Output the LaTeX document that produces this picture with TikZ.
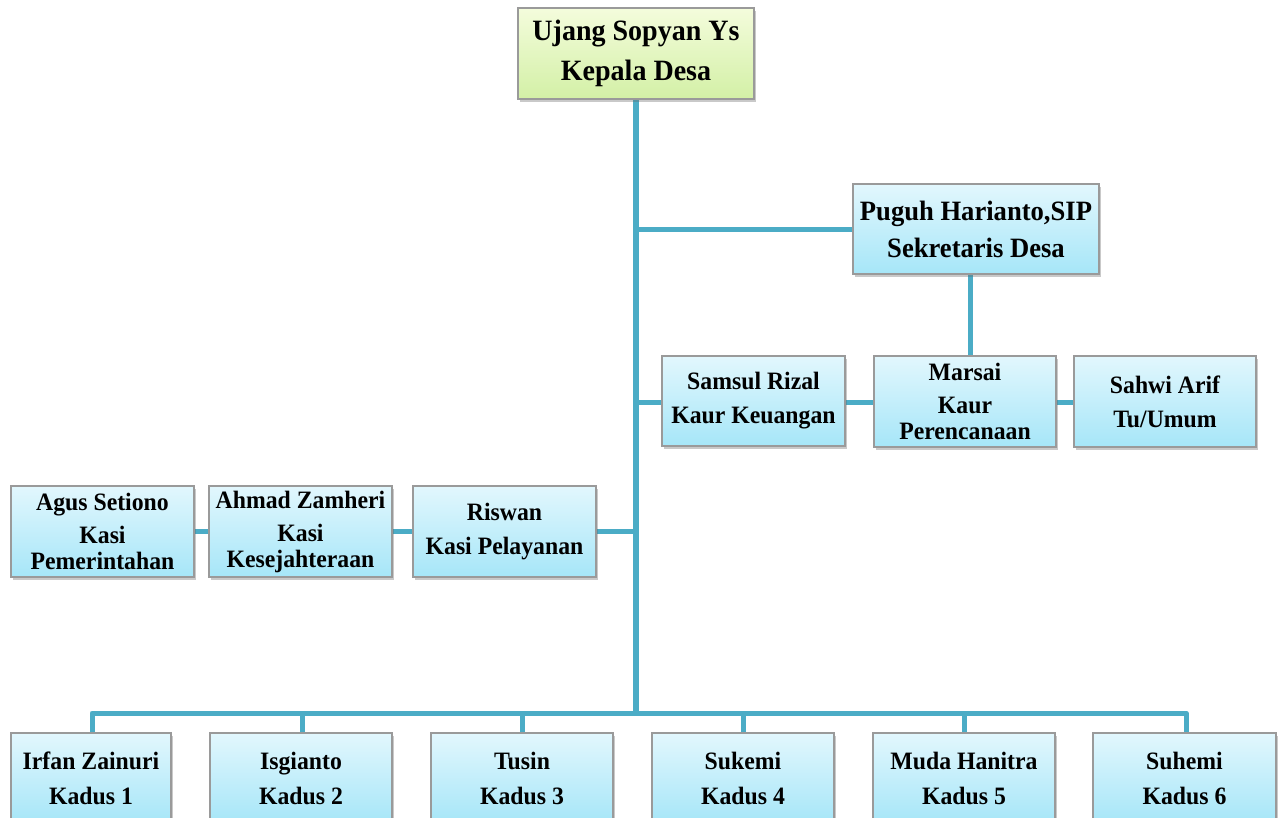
\documentclass[tikz,border=0pt]{standalone}
\usepackage{fontspec}
\setmainfont{Liberation Serif}[FakeStretch=0.95]
\usetikzlibrary{shadows}
\definecolor{lineblue}{HTML}{4BACC6}
\definecolor{bxtop}{HTML}{E2F7FD}
\definecolor{bxbot}{HTML}{A6E6F8}
\definecolor{grtop}{HTML}{F4FCDC}
\definecolor{grbot}{HTML}{D3F0A6}
\definecolor{bxedge}{HTML}{9A9A9A}
\tikzset{
  box/.style={draw=bxedge, line width=1.2pt, rectangle, top color=bxtop, bottom color=bxbot,
    drop shadow={shadow xshift=2pt, shadow yshift=-3pt, opacity=0.35, fill=black!60},
    align=center, font=\bfseries\fontsize{25}{34}\selectfont, inner sep=2pt},
  threebox/.style={box, font=\bfseries\fontsize{25}{26}\selectfont},
  headbox/.style={box, top color=grtop, bottom color=grbot, font=\bfseries\fontsize{29.5}{40}\selectfont},
  conn/.style={draw=lineblue, line width=5pt},
  trunk/.style={draw=lineblue, line width=6pt}
}
\begin{document}
\begin{tikzpicture}[x=1pt,y=-1pt]
\clip (0,0) rectangle (1280,818);
\fill[white] (0,0) rectangle (1280,818);
% coordinates for the connector network
\coordinate (tbot) at (636,713);
\coordinate (jsek) at (636,230);
\coordinate (jkaur) at (636,402);
\coordinate (jkasi) at (636,531);
\coordinate (bl) at (92,713);
\coordinate (br) at (1186,713);
% connectors drawn first (under boxes)
\draw[trunk] (636,99) -- (tbot);
\draw[conn] (jsek) -- (853,230);
\draw[conn] (970,274) -- (970,356);
\draw[conn] (jkaur) -- (662,402);
\draw[conn] (845,402) -- (874,402);
\draw[conn] (1056,402) -- (1074,402);
\draw[conn] (jkasi) -- (596,531);
\draw[conn] (392,531) -- (413,531);
\draw[conn] (194,531) -- (209,531);
\draw[conn, line cap=round, line join=round] (92,740) -- (bl) -- (br) -- (1186,740);
\foreach \x in {302,522,743,964}{\draw[conn] (\x,713) -- (\x,740);}
% boxes
\node[headbox, minimum width=236pt, minimum height=91pt] (kades) at (636,53.5) {Ujang Sopyan Ys\\Kepala Desa};
\node[box, minimum width=246pt, minimum height=90pt, font=\bfseries\fontsize{28}{37}\selectfont] (sekdes) at (976,229) {Puguh Harianto,SIP\\Sekretaris Desa};
\node[box, minimum width=183pt, minimum height=90pt] (samsul) at (753.5,401) {Samsul Rizal\\Kaur Keuangan};
\node[threebox, minimum width=182pt, minimum height=91pt] (marsai) at (965,401.5) {Marsai\\[7pt]Kaur\\Perencanaan};
\node[box, minimum width=182pt, minimum height=91pt] (sahwi) at (1165,401.5) {Sahwi Arif\\Tu/Umum};
\node[threebox, minimum width=183pt, minimum height=91pt] (agus) at (102.5,531.5) {Agus Setiono\\[7pt]Kasi\\Pemerintahan};
\node[threebox, minimum width=183pt, minimum height=91pt] (ahmad) at (300.5,531.5) {Ahmad Zamheri\\[7pt]Kasi\\Kesejahteraan};
\node[box, minimum width=183pt, minimum height=91pt] (riswan) at (504.5,531.5) {Riswan\\Kasi Pelayanan};
\node[box, minimum width=160pt, minimum height=90pt, font=\bfseries\fontsize{25}{35}\selectfont] (k1) at (91,778) {Irfan Zainuri\\Kadus 1};
\node[box, minimum width=182pt, minimum height=90pt, font=\bfseries\fontsize{25}{35}\selectfont] (k2) at (301,778) {Isgianto\\Kadus 2};
\node[box, minimum width=182pt, minimum height=90pt, font=\bfseries\fontsize{25}{35}\selectfont] (k3) at (522,778) {Tusin\\Kadus 3};
\node[box, minimum width=182pt, minimum height=90pt, font=\bfseries\fontsize{25}{35}\selectfont] (k4) at (743,778) {Sukemi\\Kadus 4};
\node[box, minimum width=182pt, minimum height=90pt, font=\bfseries\fontsize{25}{35}\selectfont] (k5) at (964,778) {Muda Hanitra\\Kadus 5};
\node[box, minimum width=183pt, minimum height=90pt, font=\bfseries\fontsize{25}{35}\selectfont] (k6) at (1184.5,778) {Suhemi\\Kadus 6};
\end{tikzpicture}
\end{document}
